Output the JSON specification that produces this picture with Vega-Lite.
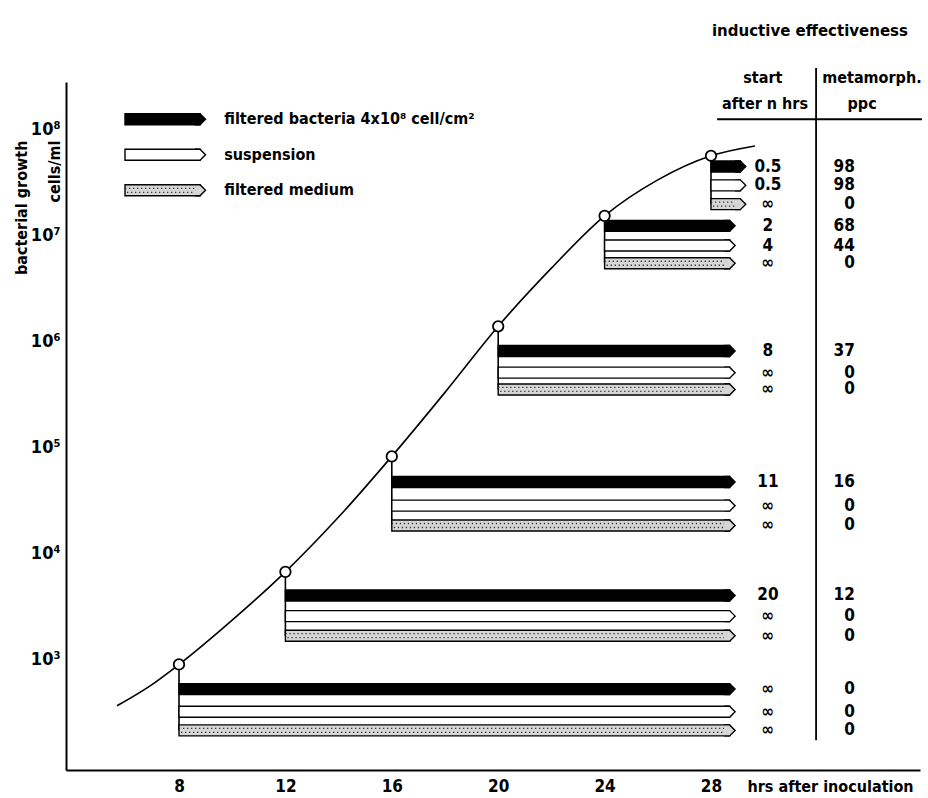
{
  "$schema": "https://vega.github.io/schema/vega-lite/v6.json",
  "width": 854,
  "height": 688,
  "autosize": {"type": "none"},
  "padding": {"left": 66, "top": 82, "right": 8, "bottom": 28},
  "background": "white",
  "config": {
    "view": {"stroke": null},
    "font": "DejaVu Sans Condensed",
    "text": {"font": "DejaVu Sans Condensed", "fontWeight": "bold", "color": "black"},
    "axis": {
      "domainColor": "black", "domainWidth": 2, "ticks": false, "grid": false,
      "labelFont": "DejaVu Sans Condensed", "labelFontWeight": "bold", "labelColor": "black",
      "titleFont": "DejaVu Sans Condensed", "titleFontWeight": "bold", "titleColor": "black"
    }
  },
  "datasets": {
    "curve": [
      {"hours": 5.67, "cells": 362},
      {"hours": 6.9, "cells": 555},
      {"hours": 8, "cells": 889},
      {"hours": 10, "cells": 2330},
      {"hours": 12, "cells": 6650},
      {"hours": 14, "cells": 21860},
      {"hours": 16, "cells": 81700},
      {"hours": 18, "cells": 328300},
      {"hours": 20, "cells": 1380000},
      {"hours": 22, "cells": 4880000},
      {"hours": 24, "cells": 15200000},
      {"hours": 26, "cells": 33200000},
      {"hours": 28, "cells": 56100000},
      {"hours": 29.65, "cells": 69500000}
    ],
    "samples": [
      {"hours": 8, "cells": 889, "cells_end": 212},
      {"hours": 12, "cells": 6650, "cells_end": 1660},
      {"hours": 16, "cells": 81700, "cells_end": 18200},
      {"hours": 20, "cells": 1380000, "cells_end": 350000},
      {"hours": 24, "cells": 15200000, "cells_end": 5430000},
      {"hours": 28, "cells": 56100000, "cells_end": 19600000}
    ],
    "arrows": [
      {"role": "legend", "series": "filtered bacteria", "hours": 5.97, "hours_end": 8.79, "cells": 124000000, "label": "filtered bacteria 4x10⁸ cell/cm²"},
      {"role": "legend", "series": "suspension", "hours": 5.97, "hours_end": 8.79, "cells": 57300000, "label": "suspension"},
      {"role": "legend", "series": "filtered medium", "hours": 5.97, "hours_end": 8.79, "cells": 26500000, "label": "filtered medium"},
      {"role": "table", "series": "filtered bacteria", "hours": 28, "hours_end": 29.1, "cells": 44400000, "start_after": "0.5", "ppc": "98"},
      {"role": "table", "series": "suspension", "hours": 28, "hours_end": 29.1, "cells": 29500000, "start_after": "0.5", "ppc": "98"},
      {"role": "table", "series": "filtered medium", "hours": 28, "hours_end": 29.1, "cells": 19600000, "start_after": "∞", "ppc": "0"},
      {"role": "table", "series": "filtered bacteria", "hours": 24, "hours_end": 28.7, "cells": 12240000, "start_after": "2", "ppc": "68"},
      {"role": "table", "series": "suspension", "hours": 24, "hours_end": 28.7, "cells": 7980000, "start_after": "4", "ppc": "44"},
      {"role": "table", "series": "filtered medium", "hours": 24, "hours_end": 28.7, "cells": 5430000, "start_after": "∞", "ppc": "0"},
      {"role": "table", "series": "filtered bacteria", "hours": 20, "hours_end": 28.7, "cells": 807000, "start_after": "8", "ppc": "37"},
      {"role": "table", "series": "suspension", "hours": 20, "hours_end": 28.7, "cells": 504000, "start_after": "∞", "ppc": "0"},
      {"role": "table", "series": "filtered medium", "hours": 20, "hours_end": 28.7, "cells": 350000, "start_after": "∞", "ppc": "0"},
      {"role": "table", "series": "filtered bacteria", "hours": 16, "hours_end": 28.7, "cells": 46800, "start_after": "11", "ppc": "16"},
      {"role": "table", "series": "suspension", "hours": 16, "hours_end": 28.7, "cells": 28000, "start_after": "∞", "ppc": "0"},
      {"role": "table", "series": "filtered medium", "hours": 16, "hours_end": 28.7, "cells": 18200, "start_after": "∞", "ppc": "0"},
      {"role": "table", "series": "filtered bacteria", "hours": 12, "hours_end": 28.7, "cells": 3980, "start_after": "20", "ppc": "12"},
      {"role": "table", "series": "suspension", "hours": 12, "hours_end": 28.7, "cells": 2540, "start_after": "∞", "ppc": "0"},
      {"role": "table", "series": "filtered medium", "hours": 12, "hours_end": 28.7, "cells": 1660, "start_after": "∞", "ppc": "0"},
      {"role": "table", "series": "filtered bacteria", "hours": 8, "hours_end": 28.7, "cells": 520, "start_after": "∞", "ppc": "0"},
      {"role": "table", "series": "suspension", "hours": 8, "hours_end": 28.7, "cells": 318, "start_after": "∞", "ppc": "0"},
      {"role": "table", "series": "filtered medium", "hours": 8, "hours_end": 28.7, "cells": 212, "start_after": "∞", "ppc": "0"}
    ],
    "headers": [
      {"kind": "title", "text": "inductive effectiveness", "hours": 31.72, "cells": 851000000},
      {"kind": "head", "text": "start", "hours": 29.95, "cells": 305000000},
      {"kind": "head", "text": "after n hrs", "hours": 30.03, "cells": 171000000},
      {"kind": "head", "text": "metamorph.", "hours": 34.05, "cells": 305000000},
      {"kind": "head", "text": "ppc", "hours": 33.68, "cells": 171000000}
    ],
    "lines": [
      {"hours": 31.95, "hours_end": 31.95, "cells": 378000000, "cells_end": 171},
      {"hours": 28.23, "hours_end": 35.93, "cells": 124000000, "cells_end": 124000000}
    ]
  },
  "encoding": {
    "x": {
      "field": "hours", "type": "quantitative",
      "scale": {"domain": [3.752, 35.857], "nice": false, "zero": false},
      "axis": {
        "values": [8, 12, 16, 20, 24, 28], "labelFontSize": 17, "labelPadding": 8,
        "title": "hrs after inoculation", "titleFontSize": 16, "titleAnchor": "start",
        "titleAlign": "left", "titleBaseline": "top", "titleX": 681, "titleY": 8
      }
    },
    "y": {
      "field": "cells", "type": "quantitative",
      "scale": {"type": "log", "domain": [100, 250000000], "nice": false},
      "axis": {
        "values": [1000, 10000, 100000, 1000000, 10000000, 100000000],
        "labelExpr": "'10' + ['⁰','¹','²','³','⁴','⁵','⁶','⁷','⁸','⁹'][round(log(datum.value)/LN10)]",
        "labelFontSize": 18, "labelPadding": 6,
        "title": ["bacterial growth", "cells/ml"], "titleFontSize": 16, "titleAngle": -90,
        "titleAlign": "right", "titleBaseline": "top", "titleX": -53, "titleY": 58, "titleLineHeight": 33
      }
    }
  },
  "layer": [
    {
      "data": {"name": "curve"},
      "mark": {"type": "line", "interpolate": "monotone", "color": "black", "strokeWidth": 1.6}
    },
    {
      "data": {"name": "samples"},
      "mark": {"type": "rule", "color": "black", "strokeWidth": 1.6},
      "encoding": {"y2": {"field": "cells_end"}}
    },
    {
      "data": {"name": "arrows"},
      "mark": {"type": "bar", "orient": "horizontal", "size": 11, "stroke": "black", "strokeWidth": 1.4},
      "encoding": {
        "x2": {"field": "hours_end"},
        "fill": {"field": "series", "type": "nominal", "legend": null,
          "scale": {"domain": ["filtered bacteria", "suspension", "filtered medium"], "range": ["black", "white", "#d6d6d6"]}}
      }
    },
    {
      "data": {"name": "arrows"},
      "transform": [{"filter": "datum.series === 'filtered medium'"}],
      "mark": {"type": "rule", "color": "#333333", "strokeWidth": 1.3, "strokeDash": [1.3, 2.7], "yOffset": -2},
      "encoding": {"x2": {"field": "hours_end"}}
    },
    {
      "data": {"name": "arrows"},
      "transform": [{"filter": "datum.series === 'filtered medium'"}],
      "mark": {"type": "rule", "color": "#333333", "strokeWidth": 1.3, "strokeDash": [1.3, 2.7], "strokeDashOffset": 2, "yOffset": 2},
      "encoding": {"x2": {"field": "hours_end"}}
    },
    {
      "data": {"name": "arrows"},
      "mark": {"type": "point", "shape": "M-1,-1L0,-1L1,0L0,1L-1,1", "size": 121, "filled": true, "opacity": 1, "stroke": "black", "strokeWidth": 1.4},
      "encoding": {
        "x": {"field": "hours_end", "type": "quantitative"},
        "fill": {"field": "series", "type": "nominal", "legend": null,
          "scale": {"domain": ["filtered bacteria", "suspension", "filtered medium"], "range": ["black", "white", "#d6d6d6"]}}
      }
    },
    {
      "data": {"name": "samples"},
      "mark": {"type": "point", "shape": "circle", "size": 110, "filled": true, "fill": "white", "stroke": "black", "strokeWidth": 1.8, "opacity": 1}
    },
    {
      "data": {"name": "arrows"},
      "transform": [{"filter": "datum.role === 'table'"}],
      "mark": {"type": "text", "fontSize": 17, "align": "center", "baseline": "middle"},
      "encoding": {"x": {"datum": 30.14}, "text": {"field": "start_after"}}
    },
    {
      "data": {"name": "arrows"},
      "transform": [{"filter": "datum.role === 'table'"}],
      "mark": {"type": "text", "fontSize": 17, "align": "right", "baseline": "middle"},
      "encoding": {"x": {"datum": 33.41}, "text": {"field": "ppc"}}
    },
    {
      "data": {"name": "arrows"},
      "transform": [{"filter": "datum.role === 'legend'"}],
      "mark": {"type": "text", "fontSize": 16, "align": "left", "baseline": "middle"},
      "encoding": {"x": {"datum": 9.7}, "text": {"field": "label"}}
    },
    {
      "data": {"name": "headers"},
      "transform": [{"filter": "datum.kind === 'head'"}],
      "mark": {"type": "text", "fontSize": 16, "align": "center", "baseline": "middle"},
      "encoding": {"text": {"field": "text"}}
    },
    {
      "data": {"name": "headers"},
      "transform": [{"filter": "datum.kind === 'title'"}],
      "mark": {"type": "text", "font": "DejaVu Sans", "fontSize": 15, "align": "center", "baseline": "middle"},
      "encoding": {"text": {"field": "text"}}
    },
    {
      "data": {"name": "lines"},
      "mark": {"type": "rule", "color": "black", "strokeWidth": 1.8},
      "encoding": {"x2": {"field": "hours_end"}, "y2": {"field": "cells_end"}}
    }
  ]
}
